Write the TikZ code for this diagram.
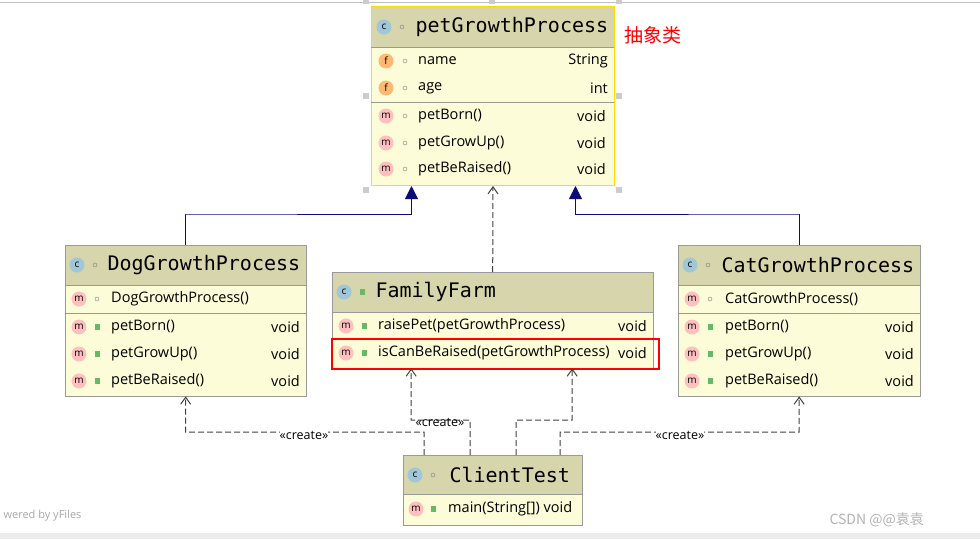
\documentclass[tikz,border=0pt]{standalone}
\usepackage{fontspec}
\setmainfont{Open Sans}
\newfontfamily\monofont{DejaVu Sans Mono}
\newfontfamily\cjk{Noto Sans CJK SC}
\usetikzlibrary{arrows.meta}
\definecolor{hdr}{HTML}{D6D5AB}
\definecolor{body}{HTML}{FCFCD8}
\definecolor{edge}{HTML}{9A9A9A}
\definecolor{inh}{HTML}{0B0B7A}
\begin{document}
\begin{tikzpicture}[x=1pt, y=-1pt,
    box/.style={draw=edge, fill=body, anchor=north west, inner sep=0pt},
    head/.style={fill=hdr, anchor=north west, inner sep=0pt},
    title/.style={anchor=west, font=\monofont\fontsize{20}{20}\selectfont},
    row/.style={anchor=west, font=\fontsize{14.5}{15}\selectfont, inner sep=0pt},
    typ/.style={anchor=east, font=\fontsize{14.5}{15}\selectfont, inner sep=0pt},
    ico/.style={circle, minimum size=15pt, inner sep=0pt, font=\fontsize{10}{10}\selectfont},
    cico/.style={ico, fill=cyan!45!gray!60},
    fico/.style={ico, fill=orange!55},
    mico/.style={ico, fill=red!25},
    dot/.style={circle, draw=gray, minimum size=4pt, inner sep=0pt},
    lock/.style={fill=green!55!black!60, minimum width=5pt, minimum height=6pt, inner sep=0pt},
    sep/.style={draw=gray!80, line width=1pt},
    isa/.style={draw=inh, line width=1pt, -{Triangle[width=13pt,length=13pt]}},
    dep/.style={draw=gray!50!black, line width=1pt, dash pattern=on 6pt off 3pt, -{Straight Barb[length=7pt,width=10pt]}},
    lbl/.style={font=\fontsize{12.5}{12.5}\selectfont, inner sep=0pt},
    handle/.style={fill=gray!40, minimum size=6pt, inner sep=0pt}]
\useasboundingbox (0,0) rectangle (980,539);
\draw[gray!50] (0,2) -- (980,2);
\fill[gray!15] (0,533) rectangle (980,539);

% petGrowthProcess
\node[box, draw=yellow!80!orange, line width=1pt, minimum width=243pt, minimum height=179pt] (pgp) at (371,6) {};
\node[head, minimum width=242pt, minimum height=40pt] (pgph) at (371.5,6.5) {};
\draw[sep] (371,47) -- (614,47);
\draw[sep] (371,102) -- (614,102);
\node[cico] (pgpi) at (384,27) {c};
\node[dot] at (402,27) {};
\node[title] (pgpt) at (412,27) {petGrowthProcess};
\node[fico] at (386,61) {f}; \node[dot] at (405,61) {};
\node[row] at (418,61) {name}; \node[typ] at (608,61) {String};
\node[fico] at (386,88) {f}; \node[dot] at (405,88) {};
\node[row] at (418,88) {age}; \node[typ] at (608,88) {int};
\foreach \y/\t in {116/petBorn(), 143/petGrowUp(), 169/petBeRaised()} {
  \node[mico] at (386,\y) {m}; \node[dot] at (405,\y) {};
  \node[row] at (418,\y) {\t}; \node[typ] at (606,\y) {void};
}
\foreach \p in {(366,1),(492,1),(619,1),(366,96),(619,96),(366,190),(619,190)}
  \node[handle] at \p {};
\node[text=red, font=\cjk\fontsize{19}{19}\selectfont, anchor=west] (abs) at (621,35) {抽象类};

% DogGrowthProcess
\node[box, minimum width=241pt, minimum height=151pt] (dog) at (65,245) {};
\node[head, minimum width=240pt, minimum height=40pt] at (65.5,245.5) {};
\draw[sep] (65,285) -- (306,285);
\draw[sep] (65,313) -- (306,313);
\node[cico] at (77,265) {c}; \node[dot] at (95,265) {};
\node[title] at (104,265) {DogGrowthProcess};
\node[mico] at (79,299) {m}; \node[dot] at (97,299) {};
\node[row] at (111,299) {DogGrowthProcess()};
\foreach \y/\t in {327/petBorn(), 354/petGrowUp(), 381/petBeRaised()} {
  \node[mico] at (79,\y) {m}; \node[lock] at (97,\y) {};
  \node[row] at (111,\y) {\t}; \node[typ] at (300,\y) {void};
}

% CatGrowthProcess
\node[box, minimum width=242pt, minimum height=151pt] (cat) at (678,245) {};
\node[head, minimum width=241pt, minimum height=40pt] at (678.5,245.5) {};
\draw[sep] (678,285) -- (920,285);
\draw[sep] (678,313) -- (920,313);
\node[cico] at (690,265) {c}; \node[dot] at (708,265) {};
\node[title] at (718,265) {CatGrowthProcess};
\node[mico] at (692,299) {m}; \node[dot] at (710,299) {};
\node[row] at (725,299) {CatGrowthProcess()};
\foreach \y/\t in {327/petBorn(), 354/petGrowUp(), 381/petBeRaised()} {
  \node[mico] at (692,\y) {m}; \node[lock] at (710,\y) {};
  \node[row] at (725,\y) {\t}; \node[typ] at (914,\y) {void};
}

% FamilyFarm
\node[box, minimum width=321pt, minimum height=96pt] (farm) at (332,272) {};
\node[head, minimum width=320pt, minimum height=40pt] at (332.5,272.5) {};
\draw[sep] (332,312) -- (653,312);
\node[cico] at (344,292) {c}; \node[lock] at (362,292) {};
\node[title] at (372,292) {FamilyFarm};
\foreach \y/\t in {326/raisePet(petGrowthProcess), 353/isCanBeRaised(petGrowthProcess)} {
  \node[mico] at (346,\y) {m}; \node[lock] at (364,\y) {};
  \node[row] at (378,\y) {\t}; \node[typ] at (647,\y) {void};
}
\draw[red, line width=1.5pt] (332,339) rectangle (659,369);

% ClientTest
\node[box, minimum width=179pt, minimum height=70pt] (client) at (403,455) {};
\node[head, minimum width=178pt, minimum height=38pt] at (403.5,455.5) {};
\draw[sep] (403,494) -- (582,494);
\node[cico] at (415,475) {c}; \node[dot] at (433,475) {};
\node[title] at (446,475) {ClientTest};
\node[mico] at (416,509) {m}; \node[lock] at (433,509) {};
\node[row] at (448,509) {main(String[]) void};

% generalization
\draw[isa] (dog.north) |- (185.5,214) -| ([xshift=-81.5pt]pgp.south);
\draw[isa] (cat.north) |- (799,214) -| ([xshift=82.5pt]pgp.south);
\draw[dep] (farm.north) -- (pgp.south);

% dependencies
\draw[dep] ([xshift=-68.5pt]client.north) |- (185.5,432) -- (dog.south);
\draw[dep] ([xshift=-22.5pt]client.north) |- (411,420) -- ([xshift=-81.5pt]farm.south);
\draw[dep] ([xshift=23.5pt]client.north) |- (572,420) -- ([xshift=79.5pt]farm.south);
\draw[dep] ([xshift=67.5pt]client.north) |- (799,432) -- (cat.south);
\node[lbl, fill=white] (c1) at (304,435) {«create»};
\node[lbl] (c2) at (440,422) {«create»};
\node[lbl, fill=white] (c3) at (680,435) {«create»};

\node[text=gray!70, font=\fontsize{11}{11}\selectfont, anchor=west] (yf) at (0,516) {wered by yFiles};
\node[text=gray!60, font=\cjk\fontsize{14}{14}\selectfont, anchor=west] (csdn) at (826,520) {CSDN @@袁袁};
\end{tikzpicture}
\end{document}
